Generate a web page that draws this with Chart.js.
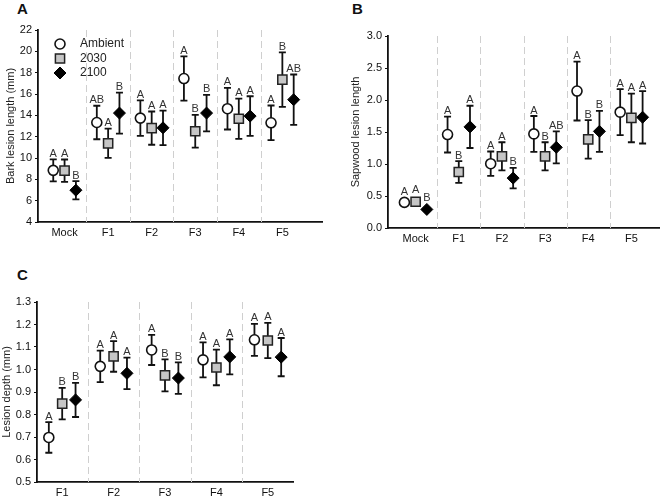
<!DOCTYPE html>
<html>
<head>
<meta charset="utf-8">
<script src="https://cdn.jsdelivr.net/npm/chart.js@4.4.0/dist/chart.umd.min.js"></script>
<style>
  body { margin: 0; background: #fff; width: 667px; height: 500px; position: relative; overflow: hidden;
         font-family: "Liberation Sans", Arial, sans-serif; }
  canvas { position: absolute; }
  .tag { position: absolute; font-weight: bold; font-size: 15px; color: #111; }
</style>
</head>
<body>
<div class="tag" style="left:17px;top:0px">A</div>
<div class="tag" style="left:352px;top:0px">B</div>
<div class="tag" style="left:17px;top:266px">C</div>
<canvas id="chartA" width="330" height="250" style="left:0;top:0"></canvas>
<canvas id="chartB" width="337" height="250" style="left:330px;top:0"></canvas>
<canvas id="chartC" width="330" height="250" style="left:0;top:250px"></canvas>
<script>
const seriesNames = ['Ambient', '2030', '2100'];

// A: bark lesion length (mm)
const barkGroups = ['Mock', 'F1', 'F2', 'F3', 'F4', 'F5'];
const barkAmbient = [8.84, 13.33, 13.74, 17.45, 14.62, 13.30];
const barkAmbientErr = [1.03, 1.57, 1.67, 2.07, 1.95, 1.62];
const barkAmbientLetters = ['A', 'AB', 'A', 'A', 'A', 'A'];
const bark2030 = [8.81, 11.38, 12.80, 12.51, 13.68, 17.35];
const bark2030Err = [1.05, 1.37, 1.56, 1.54, 1.89, 2.55];
const bark2030Letters = ['A', 'A', 'A', 'B', 'A', 'B'];
const bark2100 = [6.98, 14.21, 12.83, 14.21, 13.93, 15.47];
const bark2100Err = [0.85, 1.92, 1.62, 1.71, 1.86, 2.36];
const bark2100Letters = ['B', 'B', 'A', 'B', 'A', 'AB'];

// B: sapwood lesion length
const sapGroups = ['Mock', 'F1', 'F2', 'F3', 'F4', 'F5'];
const sapAmbient = [0.40, 1.46, 1.005, 1.47, 2.14, 1.81];
const sapAmbientErr = [0.03, 0.28, 0.19, 0.28, 0.46, 0.36];
const sapAmbientLetters = ['A', 'A', 'A', 'A', 'A', 'A'];
const sap2030 = [0.41, 0.875, 1.12, 1.12, 1.385, 1.72];
const sap2030Err = [0.03, 0.17, 0.22, 0.22, 0.30, 0.38];
const sap2030Letters = ['A', 'B', 'A', 'B', 'B', 'A'];
const sap2100 = [0.29, 1.58, 0.78, 1.26, 1.51, 1.73];
const sap2100Err = [0.02, 0.33, 0.16, 0.25, 0.32, 0.41];
const sap2100Letters = ['B', 'A', 'B', 'AB', 'B', 'A'];

// C: lesion depth (mm)
const depthGroups = ['F1', 'F2', 'F3', 'F4', 'F5'];
const depthAmbient = [0.698, 1.014, 1.087, 1.043, 1.132];
const depthAmbientErr = [0.068, 0.070, 0.067, 0.078, 0.071];
const depthAmbientLetters = ['A', 'A', 'A', 'A', 'A'];
const depth2030 = [0.848, 1.058, 0.974, 1.009, 1.129];
const depth2030Err = [0.070, 0.068, 0.071, 0.079, 0.078];
const depth2030Letters = ['B', 'A', 'B', 'A', 'A'];
const depth2100 = [0.865, 0.983, 0.962, 1.056, 1.055];
const depth2100Err = [0.076, 0.070, 0.070, 0.078, 0.085];
const depth2100Letters = ['B', 'A', 'B', 'A', 'A'];

const styles = [
  { pointStyle: 'circle', pointRadius: 5, backgroundColor: '#fff', borderColor: '#111', borderWidth: 1.6 },
  { pointStyle: 'rect', pointRadius: 6.5, backgroundColor: '#c6c6c6', borderColor: '#222', borderWidth: 1.5 },
  { pointStyle: 'rectRot', pointRadius: 6, backgroundColor: '#000', borderColor: '#000', borderWidth: 1 },
];
const offsets = [-0.26, 0, 0.26];

function drawMarker(ctx, s, x, y) {
  ctx.fillStyle = s.backgroundColor;
  ctx.strokeStyle = s.borderColor;
  ctx.lineWidth = s.borderWidth;
  ctx.beginPath();
  if (s.pointStyle === 'circle') {
    ctx.arc(x, y, s.pointRadius, 0, Math.PI * 2);
  } else if (s.pointStyle === 'rect') {
    const h = s.pointRadius * Math.SQRT1_2;
    ctx.rect(x - h, y - h, 2 * h, 2 * h);
  } else {
    const r = s.pointRadius;
    ctx.moveTo(x, y - r); ctx.lineTo(x + r, y); ctx.lineTo(x, y + r); ctx.lineTo(x - r, y); ctx.closePath();
  }
  ctx.fill();
  ctx.stroke();
}

// dividers, error bars, letters, legend
const groupPlugin = {
  id: 'groups',
  beforeDatasetsDraw(chart, args, opts) {
    const { ctx, chartArea: a, scales: { x, y } } = chart;
    ctx.save();
    ctx.strokeStyle = '#cfcfcf';
    ctx.lineWidth = 1;
    ctx.setLineDash([7, 4]);
    for (let i = 0; i < opts.count - 1; i++) {
      const px = Math.round(x.getPixelForValue(i + 0.5)) + 0.5;
      ctx.beginPath(); ctx.moveTo(px, a.top); ctx.lineTo(px, a.bottom); ctx.stroke();
    }
    ctx.setLineDash([]);
    ctx.strokeStyle = '#111';
    ctx.lineWidth = 1.8;
    chart.data.datasets.forEach(ds => {
      ds.data.forEach((pt, i) => {
        const px = x.getPixelForValue(pt.x);
        const t = y.getPixelForValue(pt.y + ds.err[i]);
        const b = y.getPixelForValue(pt.y - ds.err[i]);
        ctx.beginPath();
        ctx.moveTo(px, t); ctx.lineTo(px, b);
        ctx.moveTo(px - 3.5, t); ctx.lineTo(px + 3.5, t);
        ctx.moveTo(px - 3.5, b); ctx.lineTo(px + 3.5, b);
        ctx.stroke();
      });
    });
    ctx.restore();
  },
  afterDatasetsDraw(chart, args, opts) {
    const { ctx, scales: { x, y } } = chart;
    ctx.save();
    ctx.fillStyle = '#333';
    ctx.font = '11px "Liberation Sans", Arial, sans-serif';
    ctx.textAlign = 'center';
    ctx.textBaseline = 'alphabetic';
    chart.data.datasets.forEach(ds => {
      ds.data.forEach((pt, i) => {
        const px = x.getPixelForValue(pt.x);
        const top = Math.min(y.getPixelForValue(pt.y + ds.err[i]), y.getPixelForValue(pt.y) - ds.pointRadius);
        ctx.fillText(ds.letters[i], px, top - 2.5);
      });
    });
    if (opts.legend) {
      ctx.textAlign = 'left';
      ctx.textBaseline = 'middle';
      ctx.font = '12px "Liberation Sans", Arial, sans-serif';
      seriesNames.forEach((name, k) => {
        const ly = opts.legend.y + k * 14.5;
        drawMarker(ctx, styles[k], opts.legend.x, ly);
        ctx.fillStyle = '#222';
        ctx.fillText(name, opts.legend.x + 20, ly);
      });
    }
    ctx.restore();
  },
};

function makeChart(id, p) {
  const datasets = p.means.map((m, k) => Object.assign({
    label: seriesNames[k],
    data: m.map((v, i) => ({ x: i + offsets[k], y: v })),
    err: p.errs[k],
    letters: p.letters[k],
    showLine: false,
  }, styles[k]));
  return new Chart(document.getElementById(id), {
    type: 'scatter',
    data: { datasets },
    plugins: [groupPlugin],
    options: {
      responsive: false,
      animation: false,
      layout: { padding: p.padding },
      plugins: {
        legend: { display: false },
        tooltip: { enabled: false },
        groups: { count: p.groups.length, legend: p.legend },
      },
      scales: {
        x: {
          type: 'linear', min: p.xMin, max: p.xMax,
          border: { color: '#111', width: 1.8 },
          grid: { display: false, drawTicks: false, tickLength: 0 },
          ticks: {
            stepSize: 1, includeBounds: false, autoSkip: false, maxRotation: 0,
            color: '#111', font: { size: 11, family: '"Liberation Sans", Arial, sans-serif' }, padding: 4,
            callback: v => Number.isInteger(v) ? (p.groups[v] ?? '') : '',
          },
          afterFit: s => { s.height = p.xHeight; },
        },
        y: {
          min: p.yMin, max: p.yMax,
          border: { color: '#111', width: 1.8 },
          grid: { display: true, drawOnChartArea: false, drawTicks: true, tickLength: 3, color: '#111' },
          ticks: {
            stepSize: p.yStep, color: '#111', padding: 3,
            font: { size: 11, family: '"Liberation Sans", Arial, sans-serif' },
            callback: v => v.toFixed(p.decimals),
          },
          title: {
            display: true, text: p.yTitle, color: '#222', padding: { top: p.titlePad, bottom: 0 },
            font: { size: 11, family: '"Liberation Sans", Arial, sans-serif' },
          },
          afterFit: s => { s.width = p.yWidth; },
        },
      },
    },
  });
}

makeChart('chartA', {
  groups: barkGroups,
  means: [barkAmbient, bark2030, bark2100],
  errs: [barkAmbientErr, bark2030Err, bark2100Err],
  letters: [barkAmbientLetters, bark2030Letters, bark2100Letters],
  xMin: -0.61, xMax: 5.91, yMin: 4, yMax: 22, yStep: 2, decimals: 0,
  yTitle: 'Bark lesion length (mm)', titlePad: 4,
  padding: { left: 0, top: 30, right: 5, bottom: 0 }, yWidth: 38, xHeight: 28,
  legend: { x: 60, y: 44 },
});

makeChart('chartB', {
  groups: sapGroups,
  means: [sapAmbient, sap2030, sap2100],
  errs: [sapAmbientErr, sap2030Err, sap2100Err],
  letters: [sapAmbientLetters, sap2030Letters, sap2100Letters],
  xMin: -0.64, xMax: 5.64, yMin: 0, yMax: 3, yStep: 0.5, decimals: 1,
  yTitle: 'Sapwood lesion length', titlePad: 4,
  padding: { left: 15, top: 36, right: 5, bottom: 0 }, yWidth: 43, xHeight: 22,
});

makeChart('chartC', {
  groups: depthGroups,
  means: [depthAmbient, depth2030, depth2100],
  errs: [depthAmbientErr, depth2030Err, depth2100Err],
  letters: [depthAmbientLetters, depth2030Letters, depth2100Letters],
  xMin: -0.49, xMax: 4.49, yMin: 0.5, yMax: 1.3, yStep: 0.1, decimals: 1,
  yTitle: 'Lesion depth (mm)', titlePad: 0,
  padding: { left: 0, top: 52, right: 37, bottom: 0 }, yWidth: 37, xHeight: 18,
});
</script>
</body>
</html>
